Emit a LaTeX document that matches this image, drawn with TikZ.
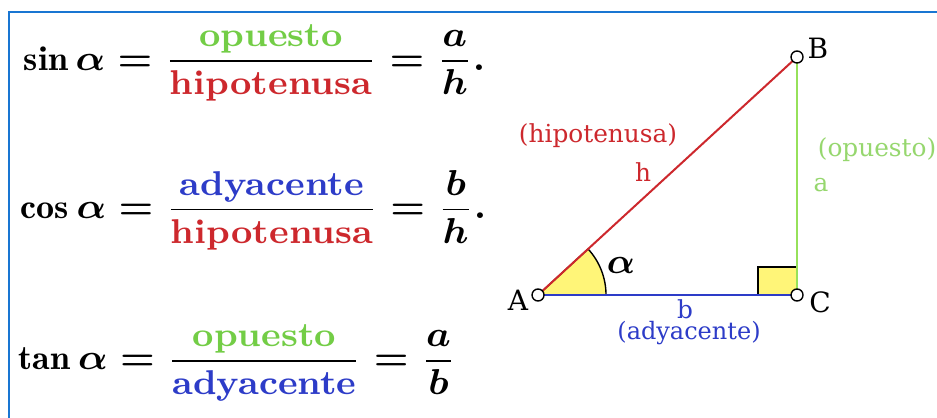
\documentclass[tikz,border=0pt]{standalone}
\usepackage{amsmath,amssymb}
\usepackage{fontspec}
\newfontfamily\trifont{DejaVu Serif}
\usepackage{tikz}

\definecolor{opgreen}{RGB}{115,205,70}
\definecolor{hipred}{RGB}{205,40,45}
\definecolor{adyblue}{RGB}{45,60,200}
\definecolor{ladogreen}{RGB}{150,225,90}
\definecolor{etigreen}{RGB}{150,215,110}
\definecolor{marco}{RGB}{25,118,210}
\definecolor{amarillo}{RGB}{255,245,120}

\tikzset{
  ecuacion/.style={anchor=west, inner sep=0pt, xscale=1.05, transform shape, font=\fontsize{8.6}{10}\selectfont\bfseries\boldmath},
  etiqueta/.style={inner sep=0pt, font=\trifont\fontsize{6.2}{7}\selectfont},
  vertice/.style={circle, draw=black, fill=white, line width=0.35pt, inner sep=0pt, minimum size=3pt}
}

\begin{document}
\begin{tikzpicture}[x=0.25pt,y=0.25pt]
    \useasboundingbox (0,0) rectangle (937,417);
    \fill[white] (0,0) rectangle (937,417);
    \draw[marco, line width=0.6pt] (9,-5) -- (9,405) -- (945,405);

    % ecuaciones
    \node[ecuacion] (sen) at (23,354) {$\displaystyle \sin\alpha = \frac{\textcolor{opgreen}{\text{opuesto}}}{\textcolor{hipred}{\text{hipotenusa}}} = \frac{a}{h}.$};
    \node[ecuacion] (cos) at (20,207) {$\displaystyle \cos\alpha = \frac{\textcolor{adyblue}{\text{adyacente}}}{\textcolor{hipred}{\text{hipotenusa}}} = \frac{b}{h}.$};
    \node[ecuacion] (tan) at (18,54) {$\displaystyle \tan\alpha = \frac{\textcolor{opgreen}{\text{opuesto}}}{\textcolor{adyblue}{\text{adyacente}}} = \frac{a}{b}$};

    % triangulo
    \coordinate (A) at (538,122);
    \coordinate (B) at (797,360);
    \coordinate (C) at (797,122);
    \filldraw[fill=amarillo, draw=black, line width=0.35pt] (A) -- ++(68,0) arc (0:42.6:68) -- cycle;
    \filldraw[fill=amarillo, draw=black, line width=0.35pt] (758,122) rectangle (797,150);
    \draw[hipred, line width=0.5pt] (A) -- (B);
    \draw[ladogreen, line width=0.5pt] (B) -- (C);
    \draw[adyblue, line width=0.5pt] (A) -- (C);
    \node[vertice] (vA) at (A) {};
    \node[vertice] (vB) at (B) {};
    \node[vertice] (vC) at (C) {};

    \node[etiqueta, font=\trifont\fontsize{7}{8}\selectfont] (lA) at (518,117) {A};
    \node[etiqueta, font=\trifont\fontsize{7}{8}\selectfont] (lB) at (818,369) {B};
    \node[etiqueta, font=\trifont\fontsize{7}{8}\selectfont] (lC) at (820,115) {C};
    \node[etiqueta, hipred] (hip) at (598,281) {(hipotenusa)};
    \node[etiqueta, hipred] (h) at (643,245) {h};
    \node[etiqueta, etigreen, anchor=west] (op) at (817,267) {(opuesto)};
    \node[etiqueta, etigreen] (a) at (821,232) {a};
    \node[etiqueta, adyblue] (b) at (685,108) {b};
    \node[etiqueta, adyblue, font=\trifont\fontsize{6}{7}\selectfont] (ady) at (689,84) {(adyacente)};
    \node[inner sep=0pt, font=\fontsize{9}{10}\selectfont\boldmath] (alfa) at (621,152) {$\alpha$};
\end{tikzpicture}
\end{document}
